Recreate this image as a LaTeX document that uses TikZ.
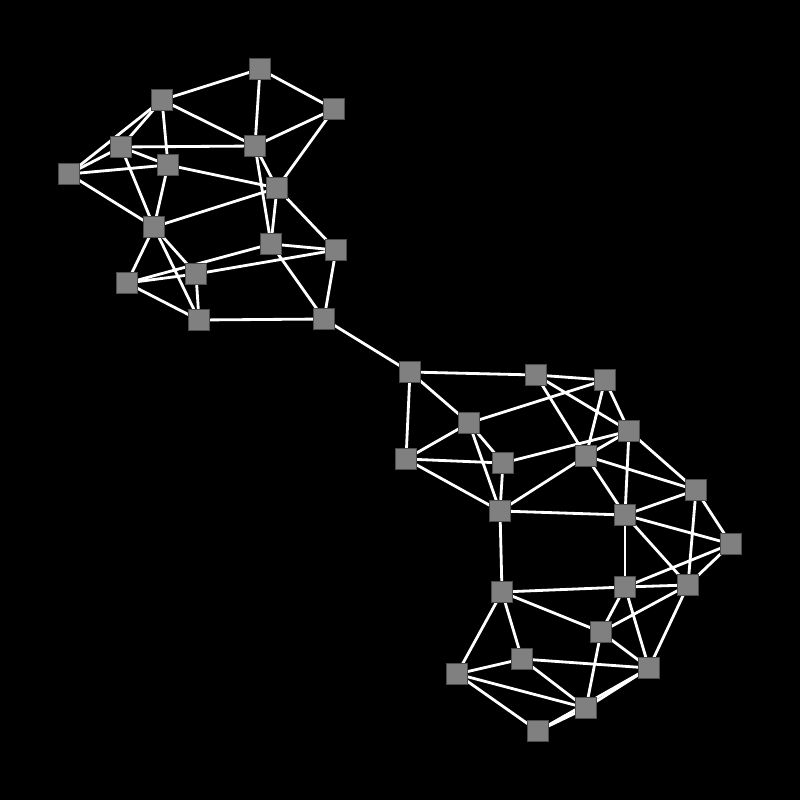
\documentclass[tikz,border=0pt]{standalone}
\pgfdeclarelayer{bglayer}
\pgfdeclarelayer{edgelayer}
\pgfsetlayers{bglayer,edgelayer,main}
\begin{document}
\begin{tikzpicture}[x=0.01cm,y=-0.01cm,
  vtx/.style={draw=black!70,line width=0.3pt,fill=gray,minimum size=0.215cm,inner sep=0pt,rectangle},
  edge/.style={white,line width=0.8pt}]
\begin{pgfonlayer}{bglayer}
\fill[black] (0,0) rectangle (800,800);
\end{pgfonlayer}
\useasboundingbox (0,0) rectangle (800,800);
% top cluster
\node[vtx] (a1) at (260,69) {};
\node[vtx] (a2) at (162,100) {};
\node[vtx] (a3) at (334,109) {};
\node[vtx] (a4) at (121,147) {};
\node[vtx] (a5) at (255,146) {};
\node[vtx] (a6) at (168,165) {};
\node[vtx] (a7) at (69,174) {};
\node[vtx] (a8) at (277,188) {};
\node[vtx] (a9) at (154,227) {};
\node[vtx] (a10) at (271,244) {};
\node[vtx] (a11) at (336,250) {};
\node[vtx] (a12) at (196,274) {};
\node[vtx] (a13) at (127,283) {};
\node[vtx] (a14) at (199,320) {};
\node[vtx] (a15) at (324,319) {};
% bottom cluster
\node[vtx] (b1) at (410,372) {};
\node[vtx] (b2) at (536,375) {};
\node[vtx] (b3) at (605,380) {};
\node[vtx] (b4) at (469,423) {};
\node[vtx] (b5) at (629,431) {};
\node[vtx] (b6) at (406,459) {};
\node[vtx] (b7) at (503,463) {};
\node[vtx] (b8) at (586,456) {};
\node[vtx] (b9) at (696,490) {};
\node[vtx] (b10) at (500,511) {};
\node[vtx] (b11) at (625,515) {};
\node[vtx] (b12) at (731,544) {};
\node[vtx] (b13) at (502,592) {};
\node[vtx] (b14) at (625,587) {};
\node[vtx] (b15) at (688,585) {};
\node[vtx] (b16) at (601,632) {};
\node[vtx] (b17) at (522,659) {};
\node[vtx] (b18) at (649,668) {};
\node[vtx] (b19) at (457,674) {};
\node[vtx] (b20) at (586,708) {};
\node[vtx] (b21) at (538,731) {};
\begin{pgfonlayer}{edgelayer}
\foreach \u/\v in {a1/a2,a1/a3,a1/a5,a2/a5,a2/a4,a2/a7,a2/a6,a3/a5,a3/a8,a4/a5,a4/a7,a4/a6,a7/a6,a6/a8,a5/a8,a5/a10,a4/a9,a6/a9,a7/a9,a8/a9,a8/a10,a8/a11,a10/a11,a13/a10,a13/a12,a12/a11,a9/a12,a9/a14,a9/a13,a12/a14,a13/a14,a14/a15,a10/a15,a11/a15,a15/b1,
b1/b2,b1/b4,b1/b6,b2/b3,b2/b8,b2/b5,b3/b4,b3/b8,b3/b5,b4/b6,b4/b7,b4/b10,b6/b7,b6/b10,b7/b10,b7/b5,b8/b5,b8/b10,b8/b11,b8/b9,b5/b9,b5/b11,b10/b11,b11/b9,b9/b15,b9/b12,
b10/b13,b11/b12,b11/b14,b11/b15,b12/b14,b12/b15,b13/b14,b14/b15,b14/b16,b14/b18,b15/b16,b15/b18,b13/b16,b13/b17,b13/b19,b16/b18,b16/b20,b17/b18,b17/b19,b17/b20,b19/b20,b19/b21,b21/b20,b20/b18,b21/b18}
  \draw[edge] (\u.center) -- (\v.center);
\end{pgfonlayer}
\end{tikzpicture}
\end{document}
